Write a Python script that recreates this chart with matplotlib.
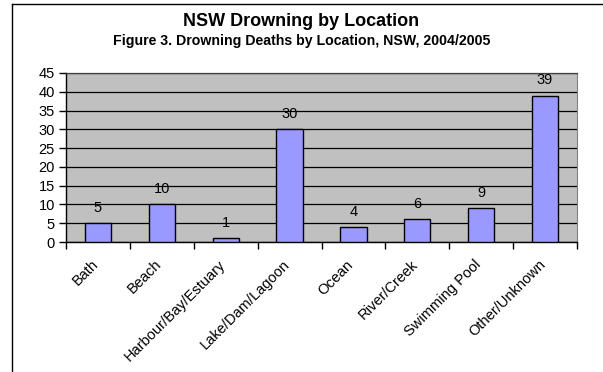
import matplotlib
matplotlib.use("Agg")
import matplotlib.pyplot as plt
import matplotlib.transforms as mtransforms
from matplotlib.lines import Line2D
import numpy as np

plt.rcParams['font.family'] = ['Liberation Sans', 'DejaVu Sans']

categories = ["Bath", "Beach", "Harbour/Bay/Estuary", "Lake/Dam/Lagoon",
              "Ocean", "River/Creek", "Swimming Pool", "Other/Unknown"]
deaths = [5, 10, 1, 30, 4, 6, 9, 39]
y_ticks = [0, 5, 10, 15, 20, 25, 30, 35, 40, 45]

fig = plt.figure(figsize=(6.03, 3.72), dpi=100)
fig.patch.set_facecolor("white")

ax = fig.add_axes([66 / 603, 1 - 242 / 372, (577 - 66) / 603, (242 - 73) / 372])
ax.set_facecolor("#C0C0C0")

x = np.arange(len(categories))
bars = ax.bar(x, deaths, width=0.41, color="#9999FF", edgecolor="black",
              linewidth=1.0, zorder=3)

for xi, v in zip(x, deaths):
    ax.annotate(str(v), (xi, v), xytext=(0, 6), textcoords="offset points",
                ha="center", va="bottom", fontsize=10.5, color="black", zorder=4)

ax.set_xlim(-0.5, len(categories) - 0.5)
ax.set_ylim(0, 45)
ax.set_yticks(y_ticks)
ax.set_yticklabels([str(t) for t in y_ticks], fontsize=10.5)
ax.yaxis.grid(True, color="black", linewidth=0.9, zorder=1)
ax.set_axisbelow(True)

# category ticks sit on the boundaries between bars
ax.set_xticks(np.arange(len(categories) + 1) - 0.5)
ax.set_xticklabels([])
ax.set_xticks(x, minor=True)
ax.set_xticklabels(categories, minor=True, rotation=45, ha="right",
                   rotation_mode="anchor", fontsize=10.5)
ax.tick_params(axis="x", which="minor", length=0, pad=11)
ax.tick_params(axis="x", which="major", length=5, width=1, direction="out")
ax.tick_params(axis="y", length=5, width=1, direction="out", pad=3)

shift = mtransforms.ScaledTranslation(-7 / 100, 0, fig.dpi_scale_trans)
for lbl in ax.get_xticklabels(minor=True):
    lbl.set_transform(lbl.get_transform() + shift)

for side in ("left", "bottom"):
    ax.spines[side].set_color("black")
    ax.spines[side].set_linewidth(1.0)
ax.spines["top"].set_color("#404040")
ax.spines["top"].set_linewidth(0.9)
ax.spines["right"].set_color("#808080")
ax.spines["right"].set_linewidth(0.8)

fig.text(0.5, 1 - 22 / 372, "NSW Drowning by Location", ha="center",
         va="center", fontsize=13, fontweight="bold")
fig.text(0.5, 1 - 41 / 372, "Figure 3. Drowning Deaths by Location, NSW, 2004/2005",
         ha="center", va="center", fontsize=10.2, fontweight="bold")

# chart frame: top and left edges
fig.add_artist(Line2D([11.5 / 603, 11.5 / 603], [0, 1 - 4 / 372],
                      color="black", linewidth=1.0))
fig.add_artist(Line2D([11.5 / 603, 1], [1 - 4 / 372, 1 - 4 / 372],
                      color="black", linewidth=1.0))

fig.savefig("out.png", dpi=100, facecolor="white")
